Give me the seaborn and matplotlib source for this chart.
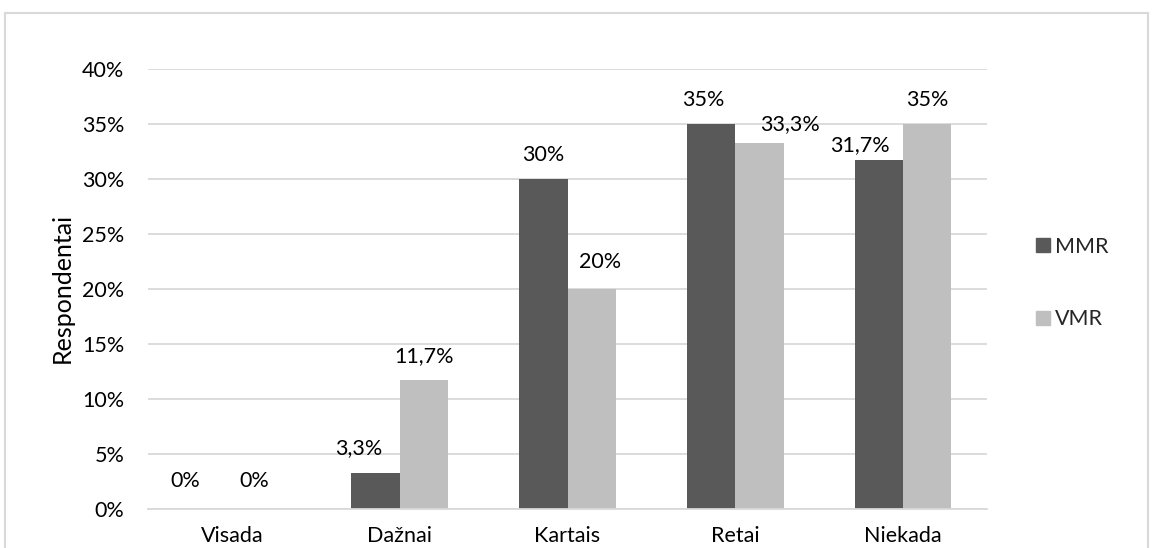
import matplotlib
matplotlib.use("Agg")
import matplotlib.pyplot as plt
import matplotlib.patches as mpatches
from matplotlib.ticker import FuncFormatter
import seaborn as sns
import pandas as pd

categories = ["Visada", "Dažnai", "Kartais", "Retai", "Niekada"]
series_names = ["MMR", "VMR"]
mmr_values = [0, 3.3, 30, 35, 31.7]
vmr_values = [0, 11.7, 20, 33.3, 35]
y_ticks = [0, 5, 10, 15, 20, 25, 30, 35, 40]
y_label = "Respondentai"

# hand-placed nudges for the value labels (pixels: right, up)
label_nudges = {
    "MMR": [(-23, 4), (-17, 1), (0, 0), (-8, 0), (-19, -9)],
    "VMR": [(-2, 4), (0, 0), (8, 3), (31, -5.5), (0, 0)],
}

colors = {"MMR": "#595959", "VMR": "#bfbfbf"}
grid_color = "#d9d9d9"
text_size = 15.5
label_pad = 10

df = pd.DataFrame({
    "Kategorija": categories * 2,
    "Grupė": [series_names[0]] * len(categories) + [series_names[1]] * len(categories),
    "Reikšmė": mmr_values + vmr_values,
})

sns.set_theme(style="white")
plt.rcParams["font.family"] = ["Lato", "DejaVu Sans"]

W, H = 1153, 548
fig = plt.figure(figsize=(W / 100, H / 100), dpi=100)
ax = fig.add_axes([148 / W, 1 - 509 / H, (987 - 148) / W, (509 - 69) / H])

sns.barplot(data=df, x="Kategorija", y="Reikšmė", hue="Grupė", order=categories,
            hue_order=series_names, palette=colors, width=0.575, saturation=1,
            ax=ax, legend=False, linewidth=0)

ax.set_ylim(0, 40)
ax.set_yticks(y_ticks)
ax.yaxis.set_major_formatter(FuncFormatter(lambda v, _: f"{v:.0f}%"))
ax.grid(axis="y", color=grid_color, linewidth=1.3)
ax.set_axisbelow(True)
for s in ["top", "right", "left"]:
    ax.spines[s].set_visible(False)
ax.spines["bottom"].set_color(grid_color)
ax.spines["bottom"].set_linewidth(1.3)
ax.tick_params(axis="both", length=0, labelsize=text_size, colors="#000000")
ax.tick_params(axis="y", pad=17)
ax.tick_params(axis="x", pad=12)
ax.set_xlabel("")
ax.set_ylabel("")
fig.text(62 / W, 1 - 288 / H, y_label, rotation=90, ha="center", va="center",
         fontsize=18, color="#000000")


def fmt(v):
    return f"{v:g}".replace(".", ",") + "%"


px_to_pt = 72 / 100
for name, container in zip(series_names, ax.containers):
    anns = ax.bar_label(container, labels=[fmt(b.get_height()) for b in container],
                        padding=label_pad, fontsize=text_size, color="#000000")
    for ann, (dx, dy) in zip(anns, label_nudges[name]):
        ann.xyann = (dx * px_to_pt, label_pad + dy * px_to_pt)

handles = [mpatches.Patch(color=colors[n], label=n) for n in series_names]
fig.legend(handles=handles, loc="center left", bbox_to_anchor=(1036 / W, 1 - 283 / H),
           frameon=False, fontsize=text_size, handlelength=0.65, handleheight=0.65,
           labelspacing=2.45, handletextpad=0.25, borderpad=0, borderaxespad=0)

border = mpatches.Rectangle((5 / W, -0.05), (1148 - 5) / W, 1.05 - 13 / H,
                            transform=fig.transFigure, fill=False,
                            edgecolor=grid_color, linewidth=1.5)
fig.add_artist(border)

fig.savefig("out.png", dpi=100)
